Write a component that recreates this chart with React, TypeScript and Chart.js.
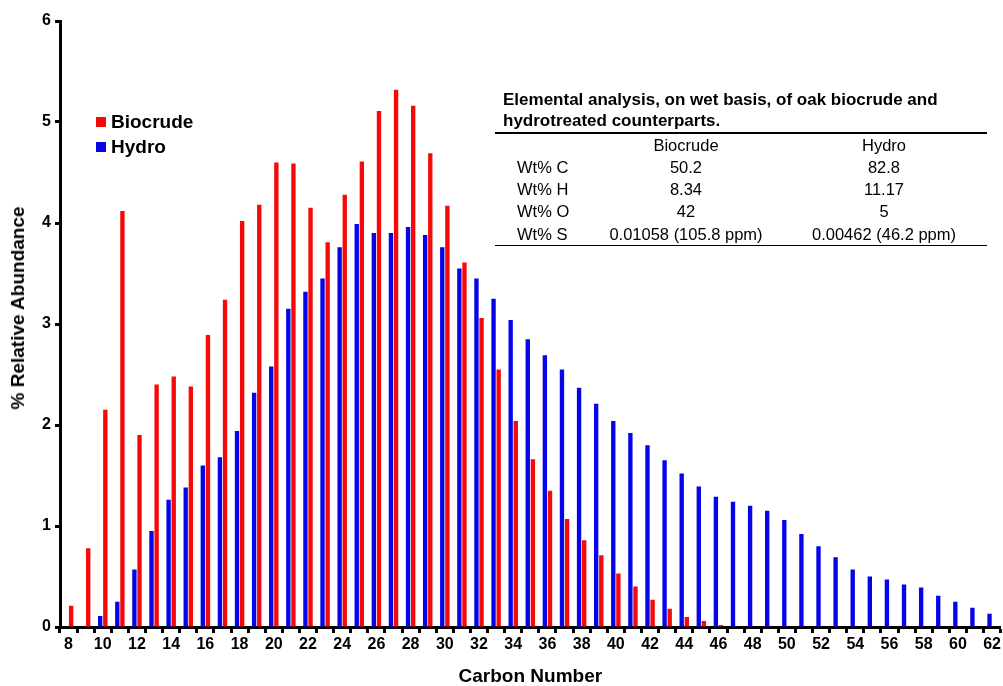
import React, { useEffect, useRef } from "react";
import { Chart, registerables } from "chart.js";

Chart.register(...registerables);

// Carbon numbers C8 … C62
const carbonNumbers: string[] = [
  "8", "9", "10", "11", "12", "13", "14", "15", "16", "17",
  "18", "19", "20", "21", "22", "23", "24", "25", "26", "27",
  "28", "29", "30", "31", "32", "33", "34", "35", "36", "37",
  "38", "39", "40", "41", "42", "43", "44", "45", "46", "47",
  "48", "49", "50", "51", "52", "53", "54", "55", "56", "57",
  "58", "59", "60", "61", "62",
];

// % relative abundance, hydrotreated oil
const hydroValues: number[] = [
  0, 0, 0.11, 0.25, 0.57, 0.95, 1.26, 1.38, 1.6, 1.68,
  1.94, 2.32, 2.58, 3.15, 3.32, 3.45, 3.76, 3.99, 3.9, 3.9,
  3.96, 3.88, 3.76, 3.55, 3.45, 3.25, 3.04, 2.85, 2.69, 2.55,
  2.37, 2.21, 2.04, 1.92, 1.8, 1.65, 1.52, 1.39, 1.29, 1.24,
  1.2, 1.15, 1.06, 0.92, 0.8, 0.69, 0.57, 0.5, 0.47, 0.42,
  0.39, 0.31, 0.25, 0.19, 0.13,
];

// % relative abundance, oak biocrude
const biocrudeValues: number[] = [
  0.21, 0.78, 2.15, 4.12, 1.9, 2.4, 2.48, 2.38, 2.89, 3.24,
  4.02, 4.18, 4.6, 4.59, 4.15, 3.81, 4.28, 4.61, 5.11, 5.32,
  5.16, 4.69, 4.17, 3.61, 3.06, 2.55, 2.04, 1.66, 1.35, 1.07,
  0.86, 0.71, 0.53, 0.4, 0.27, 0.18, 0.1, 0.06, 0.02, 0,
  0, 0, 0, 0, 0, 0, 0, 0, 0, 0,
  0, 0, 0, 0, 0,
];

// Elemental analysis table
const tableTitle: string[] = [
  "Elemental analysis, on wet basis, of oak biocrude and",
  "hydrotreated counterparts.",
];
const tableColumns: string[] = ["Biocrude", "Hydro"];
const tableRowLabels: string[] = ["Wt% C", "Wt% H", "Wt% O", "Wt% S"];
const tableBiocrude: string[] = ["50.2", "8.34", "42", "0.01058 (105.8 ppm)"];
const tableHydro: string[] = ["82.8", "11.17", "5", "0.00462 (46.2 ppm)"];

const RED = "#f50a0a";
const BLUE = "#0505e8";
const FONT = "'Liberation Sans', Arial, Helvetica, sans-serif";

export default function App() {
  const canvasRef = useRef<HTMLCanvasElement | null>(null);

  useEffect(() => {
    if (!canvasRef.current) return;
    const chart = new Chart(canvasRef.current, {
      type: "bar",
      data: {
        labels: carbonNumbers,
        datasets: [
          {
            label: "Hydro",
            data: hydroValues,
            backgroundColor: BLUE,
            borderWidth: 0,
            categoryPercentage: 0.6,
            barPercentage: 0.85,
          },
          {
            label: "Biocrude",
            data: biocrudeValues,
            backgroundColor: RED,
            borderWidth: 0,
            categoryPercentage: 0.6,
            barPercentage: 0.85,
          },
        ],
      },
      options: {
        animation: false,
        responsive: false,
        maintainAspectRatio: false,
        layout: { padding: { top: 21, left: 0, right: 0, bottom: 0 } },
        plugins: {
          legend: { display: false },
          tooltip: { enabled: false },
        },
        scales: {
          x: {
            type: "category",
            grid: {
              offset: true,
              drawOnChartArea: false,
              drawTicks: true,
              tickLength: 6,
              tickWidth: 3,
              tickColor: "#000",
              color: "#000",
            },
            border: { display: true, color: "#000", width: 3 },
            ticks: {
              autoSkip: false,
              maxRotation: 0,
              minRotation: 0,
              padding: 2,
              color: "#000",
              font: { family: FONT, size: 16, weight: "bold" },
              callback: (_v: any, i: number) =>
                Number(carbonNumbers[i]) % 2 === 0 ? carbonNumbers[i] : "",
            },
            title: {
              display: true,
              text: "Carbon Number",
              color: "#000",
              font: { family: FONT, size: 19, weight: "bold", lineHeight: 1.0 },
              padding: { top: 4, bottom: 0 },
            },
            afterFit: (scale: any) => {
              scale.height = 59;
            },
          },
          y: {
            min: 0,
            max: 6,
            ticks: {
              stepSize: 1,
              padding: 4,
              color: "#000",
              font: { family: FONT, size: 16, weight: "bold" },
            },
            grid: {
              drawOnChartArea: false,
              drawTicks: true,
              tickLength: 5,
              tickWidth: 3,
              tickColor: "#000",
              color: "#000",
            },
            border: { display: true, color: "#000", width: 3 },
            afterFit: (scale: any) => {
              scale.width = 60;
            },
          },
        },
      },
    });
    return () => chart.destroy();
  }, []);

  const rowTop = [145, 167, 189, 211, 234];

  return (
    <div
      style={{
        position: "absolute",
        left: 0,
        top: 0,
        width: 1003,
        height: 686,
        background: "#fff",
        fontFamily: FONT,
        color: "#000",
        overflow: "hidden",
      }}
    >
      <canvas ref={canvasRef} width={1003} height={686} style={{ display: "block" }} />

      {/* y-axis title */}
      <div
        style={{
          position: "absolute",
          left: 18,
          top: 308,
          transform: "translate(-50%, -50%) rotate(-90deg)",
          whiteSpace: "nowrap",
          fontWeight: "bold",
          fontSize: 19,
          lineHeight: "20px",
        }}
      >
        % Relative Abundance
      </div>

      {/* legend */}
      {[
        { label: "Biocrude", color: RED, y: 122 },
        { label: "Hydro", color: BLUE, y: 147 },
      ].map((item) => (
        <div
          key={item.label}
          style={{
            position: "absolute",
            left: 96,
            top: item.y - 11,
            height: 22,
            display: "flex",
            alignItems: "center",
            whiteSpace: "nowrap",
          }}
        >
          <span
            style={{
              display: "inline-block",
              width: 10,
              height: 10,
              background: item.color,
              marginRight: 5,
            }}
          />
          <span style={{ fontWeight: "bold", fontSize: 19, lineHeight: "22px" }}>{item.label}</span>
        </div>
      ))}

      {/* elemental analysis table */}
      {tableTitle.map((line, i) => (
        <div
          key={line}
          style={{
            position: "absolute",
            left: 503,
            top: 100 + i * 21 - 10,
            lineHeight: "20px",
            fontSize: 17,
            fontWeight: "bold",
            whiteSpace: "nowrap",
          }}
        >
          {line}
        </div>
      ))}
      <div style={{ position: "absolute", left: 495, top: 132, width: 492, height: 2, background: "#000" }} />
      {[["", ...tableColumns], ...tableRowLabels.map((r, i) => [r, tableBiocrude[i], tableHydro[i]])].map(
        (row, ri) => (
          <div
            key={ri}
            style={{
              position: "absolute",
              left: 0,
              top: rowTop[ri] - 10,
              width: 1003,
              height: 20,
              fontSize: 16.5,
              lineHeight: "20px",
              whiteSpace: "nowrap",
            }}
          >
            <span style={{ position: "absolute", left: 517 }}>{row[0]}</span>
            <span style={{ position: "absolute", left: 686, transform: "translateX(-50%)" }}>{row[1]}</span>
            <span style={{ position: "absolute", left: 884, transform: "translateX(-50%)" }}>{row[2]}</span>
          </div>
        )
      )}
      <div style={{ position: "absolute", left: 495, top: 245, width: 492, height: 1, background: "#000" }} />
    </div>
  );
}
